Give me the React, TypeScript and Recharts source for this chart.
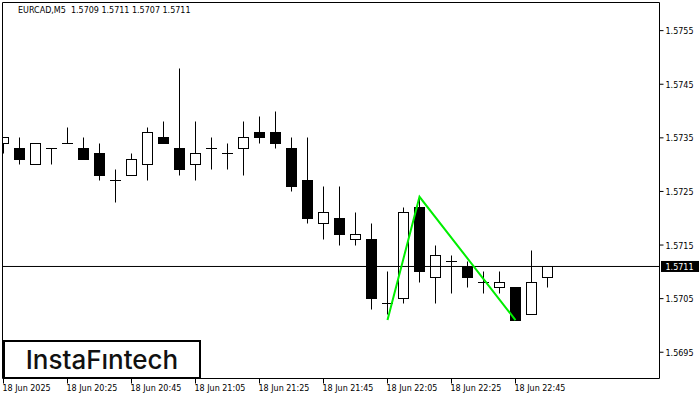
import {
  ComposedChart, Bar, Line, XAxis, YAxis, ReferenceLine,
} from "recharts";

const times = [
  "20:05", "20:10", "20:15", "20:20", "20:25", "20:30", "20:35", "20:40", "20:45", "20:50",
  "20:55", "21:00", "21:05", "21:10", "21:15", "21:20", "21:25", "21:30", "21:35", "21:40",
  "21:45", "21:50", "21:55", "22:00", "22:05", "22:10", "22:15", "22:20", "22:25", "22:30",
  "22:35", "22:40", "22:45", "22:50", "22:55",
];
const opens = [
  1.5734, 1.5733, 1.5730, 1.5733, 1.5734, 1.5733, 1.5732, 1.5727, 1.5728, 1.5730,
  1.5735, 1.5733, 1.5730, 1.5733, 1.5732, 1.5733, 1.5736, 1.5736, 1.5733, 1.5727,
  1.5719, 1.5720, 1.5716, 1.5716, 1.5704, 1.5705, 1.5722, 1.5709, 1.5712, 1.5711,
  1.5708, 1.5707, 1.5707, 1.5702, 1.5709,
];
const highs = [
  1.5735, 1.5735, 1.5734, 1.5733, 1.5737, 1.5735, 1.5734, 1.5729, 1.5732, 1.5737,
  1.5738, 1.5748, 1.5738, 1.5735, 1.5734, 1.5738, 1.5739, 1.5740, 1.5735, 1.5735,
  1.5726, 1.5726, 1.5721, 1.5719, 1.5710, 1.5722, 1.5724, 1.5715, 1.5713, 1.5712,
  1.5710, 1.5710, 1.5707, 1.5714, 1.5711,
];
const lows = [
  1.5732, 1.5730, 1.5730, 1.5730, 1.5734, 1.5731, 1.5727, 1.5723, 1.5728, 1.5727,
  1.5734, 1.5728, 1.5727, 1.5729, 1.5729, 1.5728, 1.5734, 1.5733, 1.5725, 1.5719,
  1.5716, 1.5715, 1.5715, 1.5703, 1.5702, 1.5704, 1.5708, 1.5704, 1.5706, 1.5707,
  1.5706, 1.5706, 1.5701, 1.5702, 1.5707,
];
const closes = [
  1.5735, 1.5731, 1.5734, 1.5733, 1.5734, 1.5731, 1.5728, 1.5727, 1.5731, 1.5736,
  1.5734, 1.5729, 1.5732, 1.5733, 1.5732, 1.5735, 1.5735, 1.5734, 1.5726, 1.5720,
  1.5721, 1.5717, 1.5717, 1.5705, 1.5704, 1.5721, 1.5710, 1.5713, 1.5712, 1.5709,
  1.5708, 1.5708, 1.5701, 1.5708, 1.5711,
];

// double top pattern drawn in green
const patternIdx = [24, 26, 32];
const patternVals = [1.5701, 1.5724, 1.5701];

const xTicks = [0, 4, 8, 12, 16, 20, 24, 28, 32];
const xTickLabels = [
  "18 Jun 2025", "18 Jun 20:25", "18 Jun 20:45", "18 Jun 21:05", "18 Jun 21:25",
  "18 Jun 21:45", "18 Jun 22:05", "18 Jun 22:25", "18 Jun 22:45",
];
const yTicks = [1.5695, 1.5705, 1.5715, 1.5725, 1.5735, 1.5745, 1.5755];
const lastPrice = 1.5711;
const title = "EURCAD,M5  1.5709 1.5711 1.5707 1.5711";

const Y_MIN = 1.56901;
const Y_MAX = 1.576025;
const X_MIN = -0.0625;
const X_MAX = 41;
const FONT = "DejaVu Sans";

const data = times.map((t, i) => {
  const k = patternIdx.indexOf(i);
  return {
    i,
    t,
    o: opens[i],
    h: highs[i],
    l: lows[i],
    c: closes[i],
    range: [lows[i], highs[i]],
    pattern: k >= 0 ? patternVals[k] : null,
  };
});

const snap = (v: number) => Math.floor(v) + 0.5;

function Candle(props: any) {
  const { x, y, width, height, payload } = props;
  if (x == null || y == null) return null;
  const top = Math.min(y, y + height);
  const bottom = Math.max(y, y + height);
  const { o, h, l, c } = payload;
  const py = (p: number) => top + ((h - p) / (h - l)) * (bottom - top);
  const cx = snap(x + width / 2);
  const bodyTop = snap(py(Math.max(o, c)));
  const bodyBot = snap(py(Math.min(o, c)));
  return (
    <g>
      <line x1={cx} x2={cx} y1={snap(py(h))} y2={snap(py(l))} stroke="#000" strokeWidth={1} />
      {o === c ? (
        <line x1={cx - 5.5} x2={cx + 5.5} y1={bodyTop} y2={bodyTop} stroke="#000" strokeWidth={1} />
      ) : (
        <rect
          x={cx - 5}
          y={bodyTop}
          width={10}
          height={bodyBot - bodyTop}
          fill={c < o ? "#000" : "#fff"}
          stroke="#000"
          strokeWidth={1}
        />
      )}
    </g>
  );
}

function XTick(props: any) {
  const { x, y, payload } = props;
  const k = xTicks.indexOf(payload.value);
  return (
    <text x={x - 1} y={y + 5.5} fontSize={8} fontFamily={FONT} fill="#000" textAnchor="start">
      {k >= 0 ? xTickLabels[k] : ""}
    </text>
  );
}

function YTick(props: any) {
  const { x, y, payload } = props;
  return (
    <text x={x} y={y + 3.5} fontSize={8} fontFamily={FONT} fill="#000" textAnchor="start">
      {payload.value.toFixed(4)}
    </text>
  );
}

function PriceTag(props: any) {
  const vb = props.viewBox || {};
  const right = (vb.x ?? 0) + (vb.width ?? 0);
  const yy = vb.y ?? 0;
  return (
    <g>
      <rect x={right + 1.5} y={yy - 5.5} width={38} height={11} fill="#000" />
      <text x={right + 6} y={yy + 3.5} fontSize={8} fontFamily={FONT} fill="#fff">
        {lastPrice.toFixed(4)}
      </text>
    </g>
  );
}

export default function App() {
  return (
    <div style={{ position: "absolute", left: 0, top: 0, width: 700, height: 400, background: "#fff" }}>
      <ComposedChart
        width={700}
        height={400}
        data={data}
        margin={{ top: 2.5, right: 0.5, bottom: 0.5, left: 2.5 }}
      >
        <XAxis
          dataKey="i"
          type="number"
          domain={[X_MIN, X_MAX]}
          ticks={xTicks}
          interval={0}
          allowDataOverflow
          height={21}
          tickSize={5}
          stroke="#000"
          tick={<XTick />}
        />
        <YAxis
          orientation="right"
          type="number"
          domain={[Y_MIN, Y_MAX]}
          ticks={yTicks}
          interval={0}
          allowDataOverflow
          width={40}
          tickSize={4}
          stroke="#000"
          tick={<YTick />}
        />
        <ReferenceLine x={X_MIN} stroke="#000" strokeWidth={1} />
        <ReferenceLine y={Y_MAX} stroke="#000" strokeWidth={1} />
        <ReferenceLine y={lastPrice} stroke="#000" strokeWidth={1} label={<PriceTag />} />
        <Bar dataKey="range" barSize={11} shape={<Candle />} isAnimationActive={false} />
        <Line
          type="linear"
          dataKey="pattern"
          stroke="#00ee00"
          strokeWidth={2}
          dot={false}
          activeDot={false}
          connectNulls
          isAnimationActive={false}
        />
      </ComposedChart>
      <div
        style={{
          position: "absolute", left: 18, top: 6, fontFamily: FONT, fontSize: 8,
          lineHeight: "10px", whiteSpace: "pre", color: "#000",
        }}
      >
        {title}
      </div>
      <div
        style={{
          position: "absolute", left: 3, top: 340, width: 198, height: 39, boxSizing: "border-box",
          border: "2px solid #000", background: "#fff", display: "flex", alignItems: "center",
          justifyContent: "center", fontFamily: "Inter", fontWeight: 500, fontSize: 26, color: "#111",
        }}
      >
        InstaFıntech
      </div>
    </div>
  );
}
